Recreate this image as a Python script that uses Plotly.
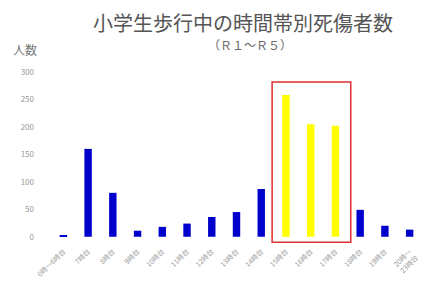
import plotly.graph_objects as go

categories = ["0時～6時台", "7時台", "8時台", "9時台", "10時台", "11時台", "12時台",
              "13時台", "14時台", "15時台", "16時台", "17時台", "18時台", "19時台",
              "20時～<br>23時台"]
values = [2, 160, 80, 11, 18, 24, 36, 45, 87, 258, 205, 202, 49, 20, 13]
highlight = ["15時台", "16時台", "17時台"]
yticks = [0, 50, 100, 150, 200, 250, 300]

colors = ["#FFFF00" if c in highlight else "#0000CC" for c in categories]
idx = list(range(len(categories)))

fig = go.Figure()
fig.add_trace(go.Bar(x=idx, y=values, marker_color=colors, marker_line_width=0, width=0.3))

hi = [categories.index(c) for c in highlight]
fig.add_shape(type="rect", xref="x", yref="y", x0=min(hi) - 0.56, x1=max(hi) + 0.62,
              y0=-10, y1=282, line=dict(color="#E03030", width=1.5), fillcolor="rgba(0,0,0,0)")

fig.update_layout(
    width=431, height=288,
    margin=dict(l=43, r=17, t=64, b=51),
    paper_bgcolor="white", plot_bgcolor="white",
    showlegend=False,
    font=dict(family="Noto Sans CJK JP", color="#888888"),
)
fig.update_xaxes(range=[-0.5, len(categories) - 0.5], tickmode="array", tickvals=idx,
                 ticktext=categories, tickangle=-45, tickfont=dict(size=7, color="#999999"),
                 showgrid=False, zeroline=False, showline=False, ticks="", automargin=False)
fig.update_yaxes(range=[-15, 300], tickvals=yticks, tickfont=dict(size=8, color="#999999"),
                 showgrid=False, zeroline=False, showline=False, ticks="", automargin=False,
                 ticklabelstandoff=16)

fig.add_annotation(text="小学生歩行中の時間帯別死傷者数", xref="paper", yref="paper",
                   x=0.5, y=1, xshift=6, yshift=66, showarrow=False,
                   font=dict(size=20, color="#555555", family="Noto Sans CJK JP"))
fig.add_annotation(text="（Ｒ１～Ｒ５）", xref="paper", yref="paper",
                   x=0.5, y=1, xshift=13, yshift=38, showarrow=False,
                   font=dict(size=12, color="#666666", family="Noto Sans CJK JP"))
fig.add_annotation(text="人数", xref="paper", yref="paper", x=0, y=1,
                   xshift=-26, yshift=33, showarrow=False, xanchor="center",
                   font=dict(size=12, color="#777777", family="Noto Sans CJK JP"))

fig.write_html("out.html")
